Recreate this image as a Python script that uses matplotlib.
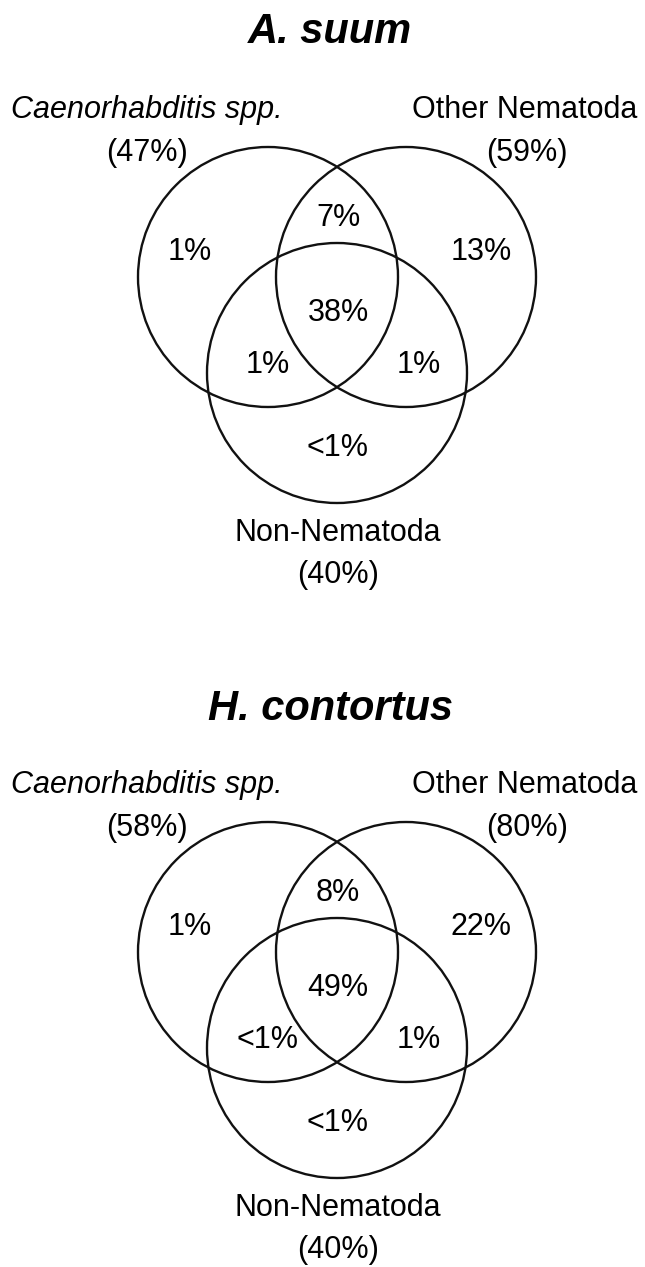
import numpy as np
import matplotlib.pyplot as plt
from matplotlib.patches import Circle

# panel titles
titles = ['A. suum', 'H. contortus']
# set names and their totals
set_names = ['Caenorhabditis spp.', 'Other Nematoda', 'Non-Nematoda']
totals = [['47%', '59%', '40%'], ['58%', '80%', '40%']]
# region values: C only, C&O, O only, all three, C&N, O&N, N only
regions = ['C', 'CO', 'O', 'CON', 'CN', 'ON', 'N']
values = [['1%', '7%', '13%', '38%', '1%', '1%', '<1%'],
          ['1%', '8%', '22%', '49%', '<1%', '1%', '<1%']]

W, H = 645, 1267
fig = plt.figure(figsize=(W / 100, H / 100), dpi=100)
ax = fig.add_axes([0, 0, 1, 1])
ax.set_xlim(0, W)
ax.set_ylim(H, 0)
ax.set_aspect('equal')
ax.axis('off')

r = 130
# circle centres relative to panel origin (pixels)
centres = [(268, 277), (406, 277), (337, 373)]
# label positions for each region
pos = {'C': (190, 252), 'CO': (338, 218), 'O': (481, 252), 'CON': (338, 313),
       'CN': (268, 365), 'ON': (419, 365), 'N': (338, 448)}

font = 'Liberation Sans'
fs = 22
for k in range(2):
    dy = k * 675
    ax.text(330, 32 + dy + 2 * k, titles[k], fontsize=30, fontweight='bold', fontstyle='italic',
            ha='center', va='center', family=font)
    for (cx, cy) in centres:
        ax.add_patch(Circle((cx, cy + dy), r, fill=False, lw=1.7, ec='#111111'))
    ax.text(147, 110 + dy, set_names[0], fontsize=fs, fontstyle='italic', ha='center', va='center', family=font)
    ax.text(147, 153 + dy, '(' + totals[k][0] + ')', fontsize=fs, ha='center', va='center', family=font)
    ax.text(525, 110 + dy, set_names[1], fontsize=fs, ha='center', va='center', family=font)
    ax.text(527, 153 + dy, '(' + totals[k][1] + ')', fontsize=fs, ha='center', va='center', family=font)
    ax.text(338, 533 + dy, set_names[2], fontsize=fs, ha='center', va='center', family=font)
    ax.text(338, 575 + dy, '(' + totals[k][2] + ')', fontsize=fs, ha='center', va='center', family=font)
    for name, v in zip(regions, values[k]):
        x, y = pos[name]
        ax.text(x, y + dy, v, fontsize=fs, ha='center', va='center', family=font)

fig.savefig('out.png', dpi=100, facecolor='white')
